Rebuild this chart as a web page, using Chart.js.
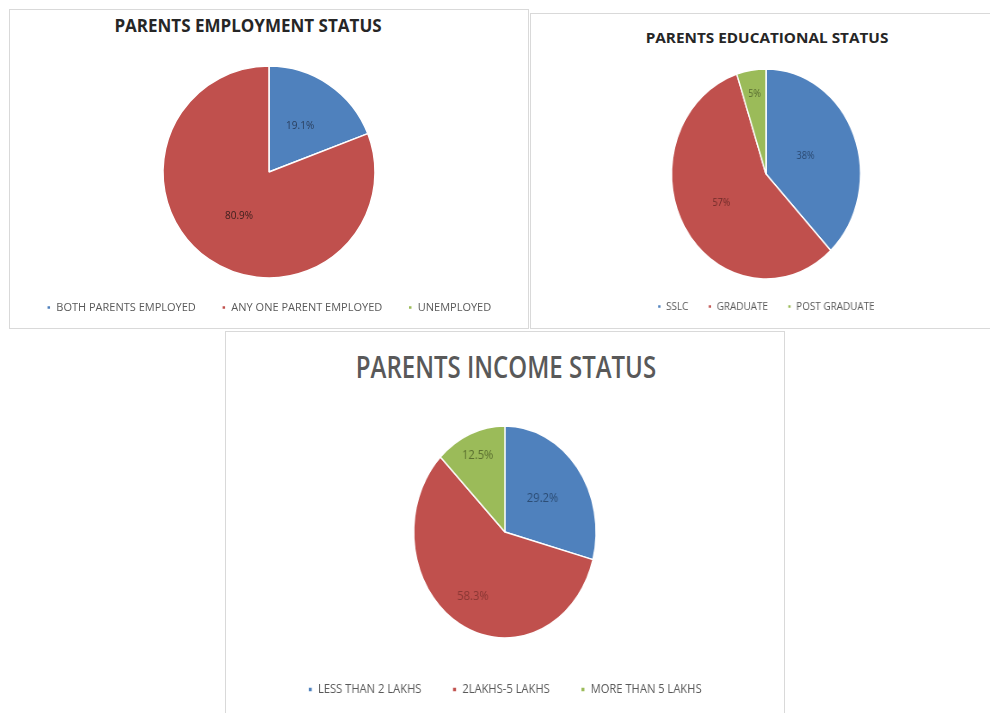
<!DOCTYPE html>
<html>
<head>
<meta charset="utf-8">
<script src="https://cdn.jsdelivr.net/npm/chart.js@4/dist/chart.umd.min.js"></script>
<style>
  body { margin: 0; background: #fff; width: 990px; height: 713px; position: relative; overflow: hidden; font-family: 'Open Sans', sans-serif; }
  .panel { position: absolute; background: #fff; border: 1px solid #d9d9d9; box-sizing: border-box; overflow: hidden; }
  .panel canvas { position: absolute; left: 0; top: 0; }
  .title { position: absolute; white-space: nowrap; transform: translateX(-50%); line-height: 1; }
</style>
</head>
<body>

<div class="panel" style="left:9px;top:9px;width:520px;height:320px">
  <div class="title" style="left:238px;top:7px;font-weight:700;font-size:17px;color:#262626;transform:translateX(-50%) scaleX(1)">PARENTS EMPLOYMENT STATUS</div>
  <canvas id="empChart" width="518" height="318"></canvas>
</div>

<div class="panel" style="left:530px;top:13px;width:462px;height:316px">
  <div class="title" style="left:236px;top:16px;font-weight:700;font-size:15px;color:#262626;transform:translateX(-50%) scaleX(1.02)">PARENTS EDUCATIONAL STATUS</div>
  <canvas id="eduChart" width="460" height="314" style="transform:scaleX(0.9);transform-origin:235px 0"></canvas>
</div>

<div class="panel" style="left:225px;top:331px;width:560px;height:384px">
  <div class="title" style="left:280px;top:20px;font-weight:600;font-size:30px;color:#595959;transform:translateX(-50%) scaleX(0.8)">PARENTS INCOME STATUS</div>
  <canvas id="incChart" width="558" height="382" style="transform:scaleX(0.86);transform-origin:278px 0"></canvas>
</div>

<script>
// percentages per group
const empLabels = ['BOTH PARENTS EMPLOYED', 'ANY ONE PARENT EMPLOYED', 'UNEMPLOYED'];
const empValues = [19.1, 80.9, 0];

const eduLabels = ['SSLC', 'GRADUATE', 'POST GRADUATE'];
const eduValues = [38, 57, 5];

const incLabels = ['LESS THAN 2 LAKHS', '2LAKHS-5 LAKHS', 'MORE THAN 5 LAKHS'];
const incValues = [29.2, 58.3, 12.5];

const sliceColors = ['#4F81BD', '#C0504D', '#9BBB59'];

// writes the percentage inside each slice
const sliceLabels = {
  id: 'sliceLabels',
  afterDatasetsDraw(chart, args, opts) {
    const ctx = chart.ctx;
    const values = chart.data.datasets[0].data;
    ctx.save();
    ctx.font = opts.font;
    ctx.textAlign = 'center';
    ctx.textBaseline = 'middle';
    chart.getDatasetMeta(0).data.forEach((arc, i) => {
      if (!values[i]) return;
      const p = arc.getProps(['x', 'y', 'startAngle', 'endAngle', 'outerRadius'], true);
      const mid = (p.startAngle + p.endAngle) / 2;
      const r = p.outerRadius * opts.radius[i];
      ctx.fillStyle = opts.colors[i];
      ctx.fillText(values[i].toFixed(opts.decimals) + '%', p.x + Math.cos(mid) * r, p.y + Math.sin(mid) * r);
    });
    ctx.restore();
  }
};

function makePie(id, labels, values, cfg) {
  return new Chart(document.getElementById(id), {
    type: 'pie',
    data: {
      labels: labels,
      datasets: [{
        data: values,
        backgroundColor: sliceColors,
        borderColor: '#ffffff',
        borderWidth: 1.5,
        radius: cfg.radius
      }]
    },
    options: {
      responsive: false,
      animation: false,
      layout: { padding: cfg.padding },
      plugins: {
        tooltip: { enabled: false },
        legend: {
          position: 'bottom',
          labels: {
            usePointStyle: true,
            pointStyle: 'rect',
            boxWidth: cfg.box,
            boxHeight: cfg.box,
            padding: cfg.legendGap,
            color: '#595959',
            font: { family: 'Open Sans', size: cfg.legendSize }
          }
        },
        sliceLabels: {
          font: cfg.labelFont,
          radius: cfg.labelRadius,
          colors: cfg.labelColors,
          decimals: cfg.decimals
        }
      }
    },
    plugins: [sliceLabels]
  });
}

makePie('empChart', empLabels, empValues, {
  radius: 106,
  padding: { top: 58, bottom: 5, left: 0, right: 0 },
  box: 4, legendGap: 26, legendSize: 11,
  labelFont: '10px "Open Sans"',
  labelRadius: [0.52, 0.5, 0.6],
  labelColors: ['#2a3f5e', '#3b1e1d', '#404040'],
  decimals: 1
});

makePie('eduChart', eduLabels, eduValues, {
  radius: 105,
  padding: { top: 55, bottom: 6, left: 10, right: 0 },
  box: 4, legendGap: 22, legendSize: 11,
  labelFont: '10px "Open Sans"',
  labelRadius: [0.45, 0.55, 0.77],
  labelColors: ['#2a4870', '#6e2b29', '#55692f'],
  decimals: 0
});

makePie('incChart', incLabels, incValues, {
  radius: 106,
  padding: { top: 85, bottom: 8, left: 0, right: 0 },
  box: 5, legendGap: 36, legendSize: 13,
  labelFont: '13px "Open Sans"',
  labelRadius: [0.52, 0.7, 0.78],
  labelColors: ['#2c4d75', '#8a3734', '#5b7030'],
  decimals: 1
});
</script>
</body>
</html>
